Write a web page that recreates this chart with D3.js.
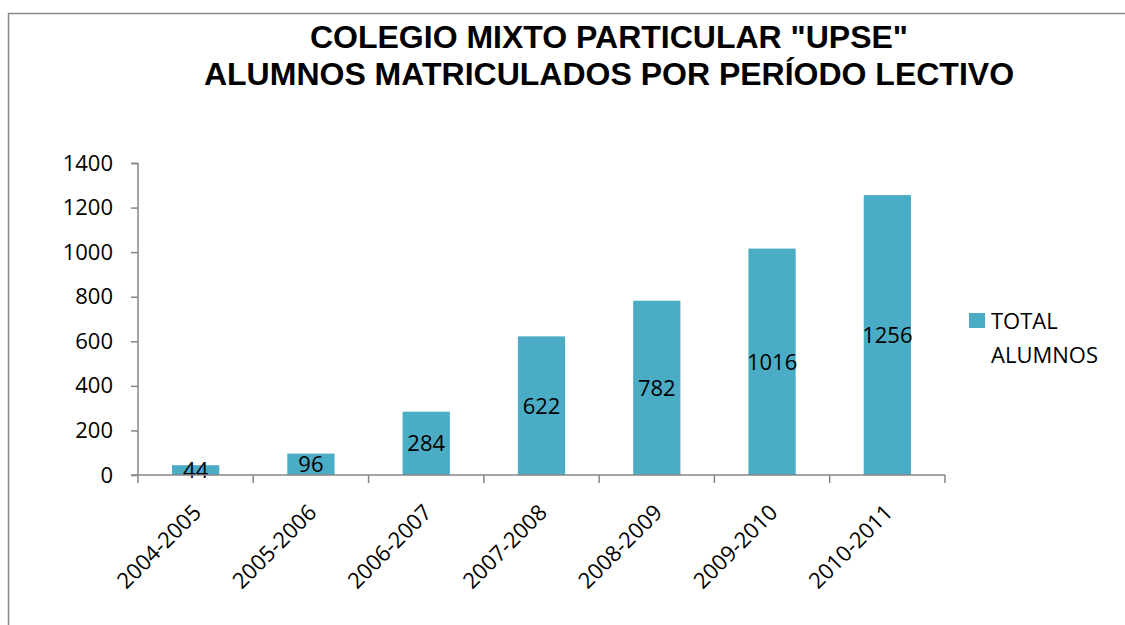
<!DOCTYPE html>
<html>
<head>
<meta charset="utf-8">
<script src="https://cdn.jsdelivr.net/npm/d3@7"></script>
<style>
  body { margin: 0; background: #fff; }
  svg text { font-family: "Open Sans", sans-serif; }
</style>
</head>
<body>
<div id="chart"></div>
<script>
// data
let periods = ["2004-2005", "2005-2006", "2006-2007", "2007-2008", "2008-2009", "2009-2010", "2010-2011"];
let totals = [44, 96, 284, 622, 782, 1016, 1256];
let yTicks = [0, 200, 400, 600, 800, 1000, 1200, 1400];
let titleLines = ["COLEGIO MIXTO PARTICULAR \"UPSE\"", "ALUMNOS MATRICULADOS POR PERÍODO LECTIVO"];
let legendLabel = ["TOTAL", "ALUMNOS"];

let svgWidth = 1125;
let svgHeight = 625;

let margin = { top: 163, right: 180, bottom: 150, left: 138 };
let width = 945 - margin.left;
let height = 475 - margin.top;

let barColor = "#4BACC6";
let axisColor = "#868686";

var svg = d3.select("#chart")
    .append("svg")
    .attr("width", svgWidth)
    .attr("height", svgHeight);

// outer frame
svg.append("rect")
    .attr("x", 8.5)
    .attr("y", 13.5)
    .attr("width", 1130)
    .attr("height", 640)
    .attr("fill", "none")
    .attr("stroke", "#888")
    .attr("stroke-width", 1.5);

// title
svg.selectAll(".title")
    .data(titleLines)
    .enter()
    .append("text")
    .attr("class", "title")
    .attr("x", 609)
    .attr("y", (d, i) => 48 + i * 37)
    .attr("text-anchor", "middle")
    .style("font-family", "'Liberation Sans', Arial, sans-serif")
    .style("font-weight", "bold")
    .style("font-size", "32px")
    .text(d => d);

var chartGroup = svg.append("g")
    .attr("transform", `translate(${margin.left}, ${margin.top})`);

var xScale = d3.scaleBand()
    .domain(periods)
    .range([0, width])
    .paddingInner(0.59)
    .paddingOuter(0.295);

var yScale = d3.scaleLinear()
    .domain([0, 1400])
    .range([height, 0]);

// bars
chartGroup.selectAll("rect.bar")
    .data(totals)
    .enter()
    .append("rect")
    .attr("class", "bar")
    .attr("x", (d, i) => xScale(periods[i]))
    .attr("y", d => yScale(d))
    .attr("width", xScale.bandwidth())
    .attr("height", d => height - yScale(d))
    .attr("fill", barColor);

// value labels, centred in each bar
chartGroup.selectAll("text.value")
    .data(totals)
    .enter()
    .append("text")
    .attr("class", "value")
    .attr("x", (d, i) => xScale(periods[i]) + xScale.bandwidth() / 2)
    .attr("y", d => (yScale(d) + height) / 2)
    .attr("dy", "0.36em")
    .attr("text-anchor", "middle")
    .style("font-size", "22px")
    .attr("fill", "#000")
    .text(d => d);

// y axis
var leftAxis = d3.axisLeft(yScale)
    .tickValues(yTicks)
    .tickFormat(d3.format("d"))
    .tickSize(7)
    .tickPadding(18);

var yAxis = chartGroup.append("g").call(leftAxis);
yAxis.selectAll("path, line").attr("stroke", axisColor).attr("stroke-width", 1.5);
yAxis.select(".domain").attr("d", `M-7,0.5H0V${height}`);
yAxis.selectAll("text").style("font-size", "22px").attr("fill", "#000");

// x axis, ticks on category boundaries
var xAxis = chartGroup.append("g")
    .attr("transform", `translate(0, ${height})`);

xAxis.append("line")
    .attr("x1", -7).attr("x2", width)
    .attr("stroke", axisColor).attr("stroke-width", 1.5);

var step = width / periods.length;
xAxis.selectAll("line.tick")
    .data(d3.range(periods.length + 1))
    .enter()
    .append("line")
    .attr("class", "tick")
    .attr("x1", d => d * step)
    .attr("x2", d => d * step)
    .attr("y1", 0)
    .attr("y2", 8)
    .attr("stroke", axisColor)
    .attr("stroke-width", 1.5);

xAxis.selectAll("text")
    .data(periods)
    .enter()
    .append("text")
    .attr("transform", d => `translate(${xScale(d) + xScale.bandwidth() / 2 - 4}, 28) rotate(-45)`)
    .attr("text-anchor", "end")
    .attr("dy", "0.7em")
    .style("font-size", "22px")
    .attr("fill", "#000")
    .text(d => d);

// legend
var legend = svg.append("g")
    .attr("transform", "translate(969, 313)");

legend.append("rect")
    .attr("width", 16)
    .attr("height", 15)
    .attr("fill", barColor);

legend.selectAll("text")
    .data(legendLabel)
    .enter()
    .append("text")
    .attr("x", 22)
    .attr("y", (d, i) => 16 + i * 34)
    .style("font-size", "22px")
    .attr("fill", "#000")
    .text(d => d);
</script>
</body>
</html>
